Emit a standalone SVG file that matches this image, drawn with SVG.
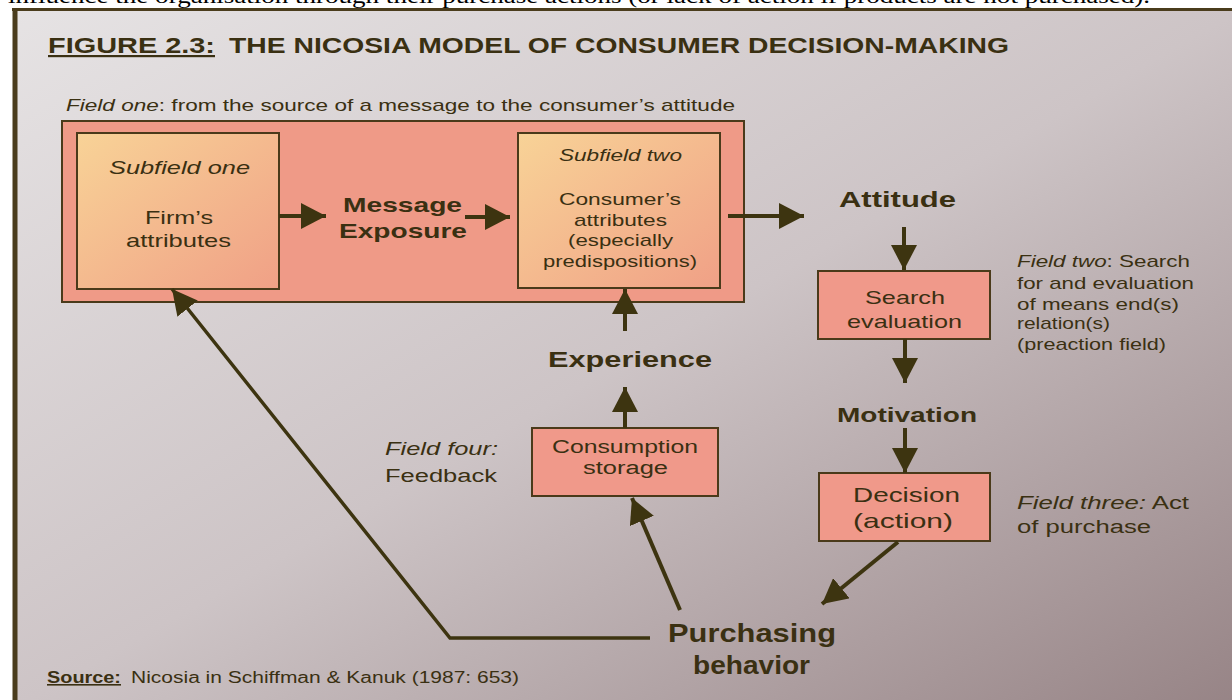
<svg xmlns="http://www.w3.org/2000/svg" width="1232" height="700" viewBox="0 0 1232 700">
<style>
text{font-family:"Liberation Sans",Arial,sans-serif;fill:#3a3012}
.b{font-weight:bold}
.i{font-style:italic}
.box{stroke:#4a3a1a;stroke-width:2}
.pink{fill:#f0998a}
.con{stroke:#3d3410;stroke-width:4;fill:none}
.fb{stroke:#3d3410;stroke-width:3.5;fill:none}
</style>
<defs>
<linearGradient id="bg" x1="0" y1="0" x2="1" y2="1">
<stop offset="0" stop-color="#e6e3e4"/>
<stop offset="0.5" stop-color="#cdc4c6"/>
<stop offset="1" stop-color="#968385"/>
</linearGradient>
<linearGradient id="sub" x1="0" y1="0" x2="1" y2="1">
<stop offset="0" stop-color="#f8d397"/>
<stop offset="1" stop-color="#f0a086"/>
</linearGradient>
<marker id="ah" markerUnits="userSpaceOnUse" markerWidth="26" markerHeight="26" refX="25" refY="13" orient="auto">
<path d="M0,0 L25,13 L0,26 Z" fill="#3d3410"/>
</marker>
</defs>
<rect x="0" y="0" width="1232" height="700" fill="#ffffff"/>
<text x="8" y="3" style="font-family:'Liberation Serif',serif;fill:#000" font-size="21" textLength="1142" lengthAdjust="spacingAndGlyphs">influence the organisation through their purchase actions (or lack of action if products are not purchased).</text>
<rect x="14" y="9" width="1230" height="700" fill="url(#bg)"/>
<line x1="15" y1="9" x2="15" y2="700" stroke="#4a3c1c" stroke-width="5"/>
<line x1="12" y1="9.5" x2="1232" y2="9.5" stroke="#4a3c1c" stroke-width="3"/>

<g id="title">
<text class="b" x="48" y="53" font-size="22" text-decoration="underline" textLength="167" lengthAdjust="spacingAndGlyphs">FIGURE 2.3:</text>
<text class="b" x="229" y="53" font-size="22" textLength="780" lengthAdjust="spacingAndGlyphs">THE NICOSIA MODEL OF CONSUMER DECISION-MAKING</text>
</g>

<g id="field-one">
<text x="66" y="111" font-size="17" textLength="669" lengthAdjust="spacingAndGlyphs"><tspan class="i">Field one</tspan>: from the source of a message to the consumer’s attitude</text>
<rect class="box" x="62" y="121" width="682" height="181" fill="#ef9a87"/>
</g>

<g id="subfield-one">
<rect class="box" x="77" y="133" width="202" height="156" fill="url(#sub)"/>
<text class="i" x="109" y="174" font-size="19" textLength="141" lengthAdjust="spacingAndGlyphs">Subfield one</text>
<text x="145" y="224" font-size="19" textLength="68" lengthAdjust="spacingAndGlyphs">Firm’s</text>
<text x="126" y="247" font-size="19" textLength="105" lengthAdjust="spacingAndGlyphs">attributes</text>
</g>

<g id="message-exposure">
<text class="b" x="343" y="212" font-size="21" textLength="119" lengthAdjust="spacingAndGlyphs">Message</text>
<text class="b" x="339" y="238" font-size="21" textLength="128" lengthAdjust="spacingAndGlyphs">Exposure</text>
</g>

<g id="subfield-two">
<rect class="box" x="518" y="133" width="202" height="155" fill="url(#sub)"/>
<text class="i" x="559" y="161" font-size="17" textLength="123" lengthAdjust="spacingAndGlyphs">Subfield two</text>
<text x="559" y="205" font-size="17" textLength="122" lengthAdjust="spacingAndGlyphs">Consumer’s</text>
<text x="574" y="226" font-size="17" textLength="93" lengthAdjust="spacingAndGlyphs">attributes</text>
<text x="568" y="246" font-size="17" textLength="105" lengthAdjust="spacingAndGlyphs">(especially</text>
<text x="543" y="267" font-size="17" textLength="154" lengthAdjust="spacingAndGlyphs">predispositions)</text>
</g>

<g id="attitude">
<text class="b" x="839" y="207" font-size="22" textLength="117" lengthAdjust="spacingAndGlyphs">Attitude</text>
</g>

<g id="search-evaluation">
<rect class="box pink" x="818" y="271" width="172" height="68"/>
<text x="865" y="304" font-size="19" textLength="80" lengthAdjust="spacingAndGlyphs">Search</text>
<text x="847" y="328" font-size="19" textLength="115" lengthAdjust="spacingAndGlyphs">evaluation</text>
</g>

<g id="field-two">
<text x="1017" y="267" font-size="17" textLength="173" lengthAdjust="spacingAndGlyphs"><tspan class="i">Field two</tspan>: Search</text>
<text x="1017" y="289" font-size="17" textLength="177" lengthAdjust="spacingAndGlyphs">for and evaluation</text>
<text x="1017" y="310" font-size="17" textLength="162" lengthAdjust="spacingAndGlyphs">of means end(s)</text>
<text x="1017" y="329" font-size="17" textLength="93" lengthAdjust="spacingAndGlyphs">relation(s)</text>
<text x="1017" y="350" font-size="17" textLength="149" lengthAdjust="spacingAndGlyphs">(preaction field)</text>
</g>

<g id="motivation">
<text class="b" x="837" y="422" font-size="21" textLength="140" lengthAdjust="spacingAndGlyphs">Motivation</text>
</g>

<g id="decision">
<rect class="box pink" x="819" y="473" width="171" height="68"/>
<text x="853" y="502" font-size="21" textLength="107" lengthAdjust="spacingAndGlyphs">Decision</text>
<text x="853" y="528" font-size="21" textLength="100" lengthAdjust="spacingAndGlyphs">(action)</text>
</g>

<g id="field-three">
<text x="1017" y="509" font-size="18" textLength="172" lengthAdjust="spacingAndGlyphs"><tspan class="i">Field three:</tspan> Act</text>
<text x="1017" y="533" font-size="18" textLength="134" lengthAdjust="spacingAndGlyphs">of purchase</text>
</g>

<g id="experience">
<text class="b" x="548" y="367" font-size="22" textLength="164" lengthAdjust="spacingAndGlyphs">Experience</text>
</g>

<g id="consumption-storage">
<rect class="box pink" x="532" y="428" width="186" height="68"/>
<text x="552" y="453" font-size="18" textLength="146" lengthAdjust="spacingAndGlyphs">Consumption</text>
<text x="583" y="474" font-size="18" textLength="85" lengthAdjust="spacingAndGlyphs">storage</text>
</g>

<g id="field-four">
<text class="i" x="385" y="455" font-size="18" textLength="113" lengthAdjust="spacingAndGlyphs">Field four:</text>
<text x="385" y="482" font-size="18" textLength="112" lengthAdjust="spacingAndGlyphs">Feedback</text>
</g>

<g id="purchasing-behavior">
<text class="b" x="668" y="642" font-size="25" textLength="168" lengthAdjust="spacingAndGlyphs">Purchasing</text>
<text class="b" x="693" y="674" font-size="25" textLength="117" lengthAdjust="spacingAndGlyphs">behavior</text>
</g>

<g id="source">
<text class="b" x="47" y="683" font-size="16" text-decoration="underline" textLength="74" lengthAdjust="spacingAndGlyphs">Source:</text>
<text x="131" y="683" font-size="16" textLength="388" lengthAdjust="spacingAndGlyphs">Nicosia in Schiffman &amp; Kanuk (1987: 653)</text>
</g>

<g id="connectors">
<line class="con" x1="279" y1="216" x2="326" y2="216" marker-end="url(#ah)"/>
<line class="con" x1="465" y1="217" x2="510" y2="217" marker-end="url(#ah)"/>
<line class="con" x1="728" y1="216" x2="804" y2="216" marker-end="url(#ah)"/>
<line class="con" x1="904" y1="227" x2="904" y2="270" marker-end="url(#ah)"/>
<line class="con" x1="905" y1="339" x2="905" y2="383" marker-end="url(#ah)"/>
<line class="con" x1="905" y1="428" x2="905" y2="473" marker-end="url(#ah)"/>
<line class="con" x1="898" y1="542" x2="822" y2="604" marker-end="url(#ah)"/>
<line class="con" x1="680" y1="610" x2="632" y2="498" marker-end="url(#ah)"/>
<line class="con" x1="625" y1="428" x2="625" y2="387" marker-end="url(#ah)"/>
<line class="con" x1="625" y1="331" x2="625" y2="289" marker-end="url(#ah)"/>
<polyline class="fb" points="650,638 450,638 172,289" marker-end="url(#ah)"/>
</g>
</svg>
